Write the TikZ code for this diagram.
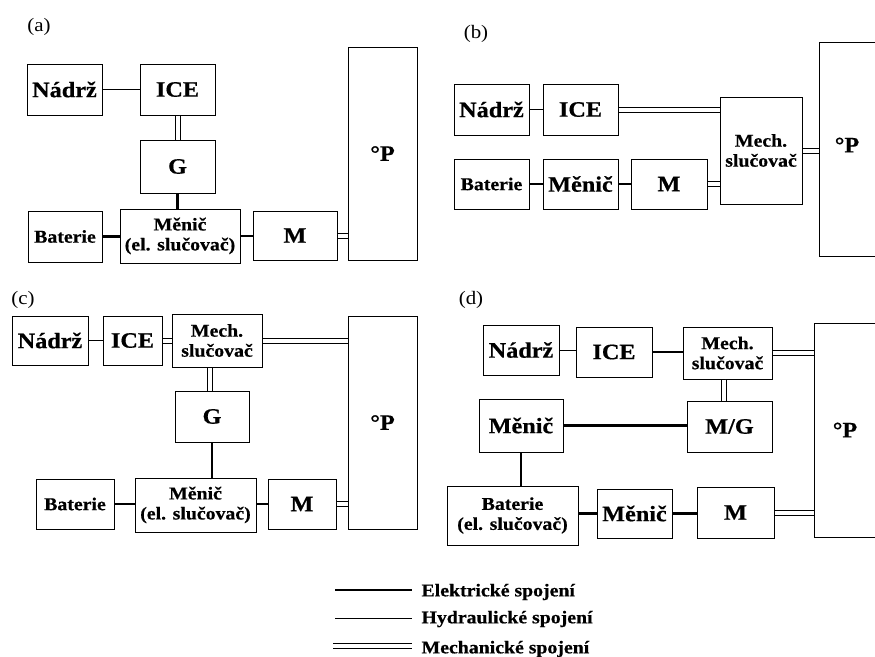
\documentclass[tikz,border=0pt]{standalone}
\usepackage{fontspec}
\setmainfont{Liberation Serif}[FakeStretch=1.1, BoldFeatures={FakeBold=0.6}]
\begin{document}
\begin{tikzpicture}[x=1pt,y=-1pt,
  box/.style={draw, line width=1pt, inner sep=0pt, align=center,
    font=\bfseries\fontsize{22}{24}\selectfont},
  small/.style={font=\bfseries\fontsize{18}{20}\selectfont},
  elec/.style={line width=2.6pt},
  hyd/.style={line width=1pt},
  mech/.style={double, double distance=4pt, line width=1pt},
  tag/.style={font=\fontsize{19}{20}\selectfont},
  legtext/.style={anchor=west, font=\bfseries\fontsize{18}{20}\selectfont}]
\useasboundingbox (0,0) rectangle (875,656);

% ---------- (a)
\node[tag] (la) at (39,27) {(a)};
\node[box, minimum width=75, minimum height=51] (aN) at (64.5,89.5) {Nádrž};
\node[box, minimum width=75, minimum height=51] (aI) at (177.5,89.5) {ICE};
\node[box, minimum width=75, minimum height=53] (aG) at (177.5,166.5) {G};
\node[box, small, minimum width=120, minimum height=54] (aMe) at (180,236) {Měnič\\(el. slučovač)};
\node[box, small, minimum width=74, minimum height=51] (aB) at (65,236.5) {Baterie};
\node[box, minimum width=84, minimum height=49] (aM) at (295,235.5) {M};
\node[box, minimum width=69, minimum height=213] (aP) at (382.5,153.5) {°P};
\draw[hyd] (aN) -- (aI);
\draw[mech] (aI) -- (aG);
\draw[elec] (aG.south) -- (aG.south |- aMe.north);
\draw[elec] (aB.east) -- (aB.east -| aMe.west);
\draw[elec] (aMe.east) -- (aMe.east -| aM.west);
\draw[mech] (aM.east) -- (aM.east -| aP.west);

% ---------- (b)
\node[tag] (lb) at (476,34) {(b)};
\node[box, minimum width=75, minimum height=51] (bN) at (491.5,109.5) {Nádrž};
\node[box, minimum width=75, minimum height=51] (bI) at (580.5,109.5) {ICE};
\node[box, small, minimum width=82, minimum height=107] (bMC) at (761,150.5) {Mech.\\slučovač};
\node[box, small, minimum width=75, minimum height=50] (bB) at (491.5,184) {Baterie};
\node[box, minimum width=75, minimum height=50] (bMe) at (580.5,184) {Měnič};
\node[box, minimum width=76, minimum height=50] (bM) at (669,184) {M};
\node[box, anchor=west, minimum width=90, minimum height=214] (bP) at (819,149) {};
\node[box, draw=none] (bPt) at (847,145) {°P};
\draw[hyd] (bN) -- (bI);
\draw[mech] (bI.east) -- (bI.east -| bMC.west);
\draw[elec] (bB) -- (bMe);
\draw[elec] (bMe) -- (bM);
\draw[mech] (bM.east) -- (bM.east -| bMC.west);
\draw[mech] (bMC.east) -- (bMC.east -| bP.west);

% ---------- (c)
\node[tag] (lc) at (23,300) {(c)};
\node[box, minimum width=76, minimum height=49] (cN) at (50,340.5) {Nádrž};
\node[box, minimum width=59, minimum height=49] (cI) at (132.5,340.5) {ICE};
\node[box, small, minimum width=90, minimum height=53] (cMC) at (217,340.5) {Mech.\\slučovač};
\node[box, minimum width=69, minimum height=213] (cP) at (382.5,422.5) {°P};
\node[box, minimum width=74, minimum height=51] (cG) at (212,416.5) {G};
\node[box, small, minimum width=121, minimum height=54] (cMe) at (195.5,505) {Měnič\\(el. slučovač)};
\node[box, small, minimum width=78, minimum height=50] (cB) at (75,504) {Baterie};
\node[box, minimum width=68, minimum height=50] (cM) at (302,504) {M};
\draw[hyd] (cN) -- (cI);
\draw[mech] (cI) -- (cMC);
\draw[mech] (cMC.east) -- (cMC.east -| cP.west);
\draw[mech] ([xshift=-2.5pt]cG.north) -- ([xshift=-2.5pt]cG.north |- cMC.south);
\draw[elec] (cG.south) -- (cG.south |- cMe.north);
\draw[elec] (cB.east) -- (cB.east -| cMe.west);
\draw[elec] (cM.west -| cMe.east) -- (cM.west);
\draw[mech] (cM.east) -- (cM.east -| cP.west);

% ---------- (d)
\node[tag] (ld) at (471,300) {(d)};
\node[box, minimum width=76, minimum height=50] (dN) at (521,350) {Nádrž};
\node[box, minimum width=76, minimum height=50] (dI) at (614,352) {ICE};
\node[box, small, minimum width=89, minimum height=52] (dMC) at (727.5,353) {Mech.\\slučovač};
\node[box, anchor=west, minimum width=90, minimum height=214] (dP) at (814,430) {};
\node[box, draw=none] (dPt) at (845,430) {°P};
\node[box, minimum width=85, minimum height=51] (dMG) at (729.5,426.5) {M/G};
\node[box, minimum width=84, minimum height=53] (dMe1) at (521,425.5) {Měnič};
\node[box, small, minimum width=131, minimum height=59] (dB) at (512.5,515.5) {Baterie\\(el. slučovač)};
\node[box, minimum width=75, minimum height=49] (dMe2) at (634.5,513.5) {Měnič};
\node[box, minimum width=77, minimum height=51] (dM) at (735.5,512.5) {M};
\draw[hyd] (dN.east) -- (dN.east -| dI.west);
\draw[elec] (dI.east) -- (dI.east -| dMC.west);
\draw[mech] (dMC.east) -- (dMC.east -| dP.west);
\draw[mech] ([xshift=-4pt]dMC.south) -- ([xshift=-4pt]dMC.south |- dMG.north);
\draw[elec] (dMe1.east) -- (dMe1.east -| dMG.west);
\draw[elec] (dMe1.south) -- (dMe1.south |- dB.north);
\draw[elec] (dMe2.west -| dB.east) -- (dMe2.west);
\draw[elec] (dMe2.east) -- (dMe2.east -| dM.west);
\draw[mech] (dM.east) -- (dM.east -| dP.west);

% ---------- legend
\coordinate (e1) at (335,590); \coordinate (e2) at (412,590);
\coordinate (h1) at (335,618); \coordinate (h2) at (412,618);
\coordinate (m1) at (333,645.5); \coordinate (m2) at (412,645.5);
\draw[elec] (e1) -- (e2);
\draw[hyd] (h1) -- (h2);
\draw[mech] (m1) -- (m2);
\node[legtext] (te) at (418,592) {Elektrické spojení};
\node[legtext] (th) at (418,619) {Hydraulické spojení};
\node[legtext] (tm) at (418,649) {Mechanické spojení};
\end{tikzpicture}
\end{document}
